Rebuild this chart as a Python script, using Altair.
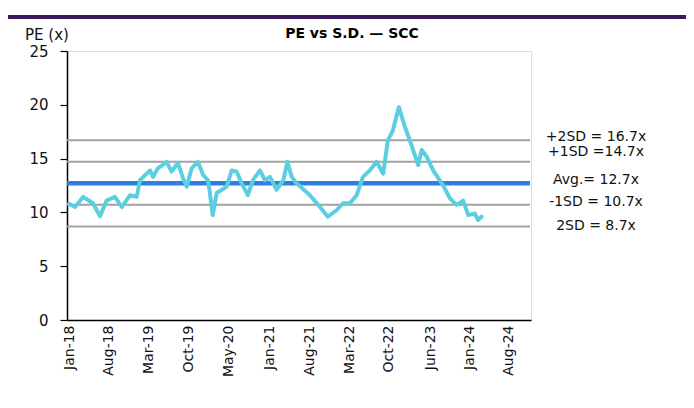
import altair as alt
import pandas as pd

# ---- data ----
dates = [
    "2018-01-01", "2018-02-03", "2018-03-20", "2018-05-12", "2018-06-20", "2018-07-26",
    "2018-09-10", "2018-10-17", "2018-12-01", "2019-01-07", "2019-01-25", "2019-03-21",
    "2019-04-06", "2019-05-03", "2019-06-20", "2019-07-17", "2019-08-21", "2019-09-17",
    "2019-10-08", "2019-11-04", "2019-12-08", "2020-01-05", "2020-02-01", "2020-02-12",
    "2020-02-27", "2020-03-20", "2020-05-14", "2020-06-10", "2020-07-07", "2020-08-04",
    "2020-09-07", "2020-10-05", "2020-11-12", "2020-12-09", "2021-01-06", "2021-02-11",
    "2021-03-20", "2021-04-11", "2021-05-05", "2021-06-01", "2021-08-13", "2021-10-07",
    "2021-11-19", "2022-01-06", "2022-02-10", "2022-03-20", "2022-04-26", "2022-05-30",
    "2022-07-07", "2022-08-13", "2022-09-18", "2022-10-14", "2022-11-10", "2022-12-13",
    "2023-01-15", "2023-02-11", "2023-03-29", "2023-04-17", "2023-05-14", "2023-06-19",
    "2023-08-13", "2023-09-19", "2023-10-25", "2023-11-30", "2023-12-28", "2024-02-02",
    "2024-02-20", "2024-03-10",
]
pe = [
    10.8, 10.5, 11.45, 10.85, 9.65, 11.1,
    11.45, 10.5, 11.6, 11.45, 13.0, 13.9,
    13.3, 14.1, 14.7, 13.8, 14.6, 13.2,
    12.4, 14.1, 14.7, 13.5, 13.0, 11.8,
    9.75, 11.8, 12.4, 13.9, 13.8, 12.7,
    11.6, 13.0, 13.9, 13.0, 13.3, 12.1,
    13.0, 14.7, 13.3, 12.7, 11.6, 10.5,
    9.6, 10.2, 10.85, 10.85, 11.6, 13.3,
    13.9, 14.7, 13.6, 16.7, 17.6, 19.8,
    17.95, 16.7, 14.4, 15.8, 15.2, 13.9,
    12.5, 11.3, 10.7, 11.1, 9.75, 9.9,
    9.3, 9.6,
]
sd_names = ["+2SD", "+1SD", "-1SD", "-2SD"]
sd_values = [16.7, 14.7, 10.7, 8.7]
avg_value = 12.7
label_names = ["+2SD", "+1SD", "Avg", "-1SD", "-2SD"]
label_values = [16.7, 14.7, 12.7, 10.7, 8.7]
label_texts = ["+2SD = 16.7x", "+1SD =14.7x", "Avg.= 12.7x", "-1SD = 10.7x", "2SD = 8.7x"]
x_tick_dates = [
    (2018, 1, 1), (2018, 8, 8), (2019, 3, 15), (2019, 10, 20), (2020, 5, 26),
    (2021, 1, 1), (2021, 8, 8), (2022, 3, 15), (2022, 10, 20), (2023, 6, 2),
    (2024, 1, 2), (2024, 8, 7),
]
y_ticks = [0, 5, 10, 15, 20, 25]
title_text = "PE vs S.D. \u2014 SCC"
y_title = "PE (x)"

df = pd.DataFrame({"date": dates, "pe": pe})
sd_df = pd.DataFrame({"name": sd_names, "value": sd_values})
avg_df = pd.DataFrame({"value": [avg_value]})
lab_df = pd.DataFrame({"name": label_names, "value": label_values, "label": label_texts})
one = pd.DataFrame({"k": [0]})

FONT = "DejaVu Sans"
W, H = 464, 269

x_scale = alt.Scale(
    type="utc",
    domain=[alt.DateTime(year=2017, month=12, date=21, utc=True),
            alt.DateTime(year=2024, month=12, date=6, utc=True)],
    nice=False,
)
y_scale = alt.Scale(domain=[0, 25], nice=False, zero=True)

x_axis = alt.Axis(
    values=[alt.DateTime(year=y, month=m, date=d, utc=True) for (y, m, d) in x_tick_dates],
    labelExpr="utcFormat(datum.value, '%b-%y')",
    labelAngle=270, labelFont=FONT, labelFontSize=14, labelColor="#111111",
    labelPadding=5, ticks=False, grid=False, domainColor="#000000", domainWidth=1.5,
    title=None, labelOverlap=False, labelBound=False, labelFlush=False,
)
y_axis = alt.Axis(
    values=y_ticks, labelFont=FONT, labelFontSize=15, labelColor="#111111",
    labelPadding=12, tickSize=7, tickColor="#000000", tickWidth=1.2,
    domainColor="#000000", domainWidth=1.5, grid=False, title=None,
)

line = alt.Chart(df).mark_line(color="#5bcfe0", strokeWidth=4, strokeJoin="round", strokeCap="round").encode(
    x=alt.X("date:T", scale=x_scale, axis=x_axis),
    y=alt.Y("pe:Q", scale=y_scale, axis=y_axis),
)

sd_rules = alt.Chart(sd_df).mark_rule(color="#a2a2a2", strokeWidth=2).encode(
    y=alt.Y("value:Q", scale=y_scale),
    x=alt.value(0), x2=alt.value(W - 1),
)

avg_rule = alt.Chart(avg_df).mark_rule(color="#2e7fdf", strokeWidth=4.5).encode(
    y=alt.Y("value:Q", scale=y_scale),
    x=alt.value(0), x2=alt.value(W - 1),
)

label_dy = [-3, -10, -3, -3, 0]
label_layers = []
for i, name in enumerate(label_names):
    label_layers.append(
        alt.Chart(lab_df).transform_filter(alt.datum.name == name).mark_text(
            align="center", baseline="middle", font=FONT, fontSize=14, color="#111111", dy=label_dy[i]
        ).encode(
            x=alt.value(529),
            y=alt.Y("value:Q", scale=y_scale),
            text="label:N",
        )
    )

title = alt.Chart(one).mark_text(
    align="center", baseline="middle", font=FONT, fontSize=14, fontWeight="bold", color="#000000"
).encode(x=alt.value(285), y=alt.value(-17), text=alt.value(title_text))

ytitle = alt.Chart(one).mark_text(
    align="left", baseline="middle", font=FONT, fontSize=15, color="#111111"
).encode(x=alt.value(-42), y=alt.value(-16), text=alt.value(y_title))

bar = alt.Chart(one).mark_rule(color="#3b1b5e", strokeWidth=4).encode(
    x=alt.value(-60), x2=alt.value(623), y=alt.value(-34)
)

chart = alt.layer(sd_rules, avg_rule, line, *label_layers, title, ytitle, bar).properties(
    width=W, height=H,
    autosize=alt.AutoSizeParams(type="none"),
    padding={"left": 59, "top": 43, "right": 155, "bottom": 80},
).configure_view(stroke=None).configure(background="white")

chart.save("out.html", embed_options={"renderer": "svg", "actions": False})
